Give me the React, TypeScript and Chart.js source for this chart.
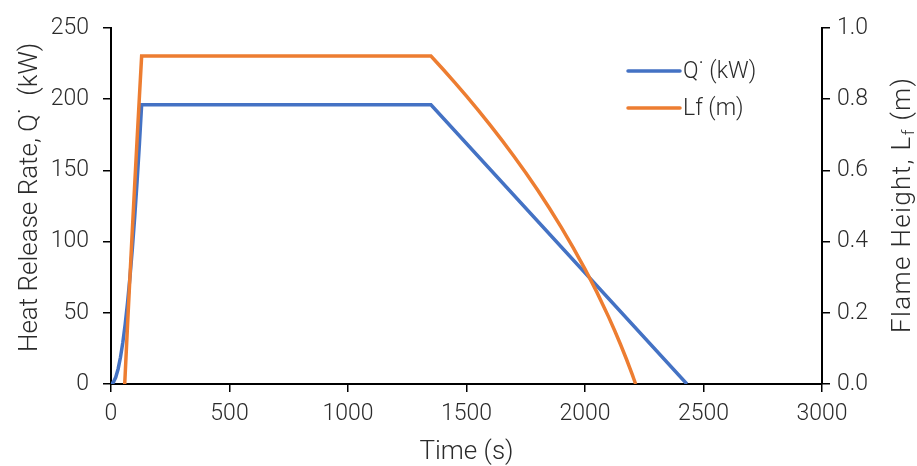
import React, { useEffect, useRef } from "react";
import { Chart, registerables } from "chart.js";

Chart.register(...registerables);

// Heat release rate Q̇ (kW) vs time (s)
const timeQ = [0, 10, 20, 30, 40, 50, 60, 70, 80, 90, 100, 110, 120, 129.3, 1350, 2430];
const heatRelease = [0, 1.17, 4.69, 10.55, 18.75, 29.3, 42.19, 57.43, 75.01, 94.93, 117.2, 141.81, 168.77, 196, 196, 0];

// Flame height Lf (m) vs time (s)
const timeLf = [57.9, 65, 70, 80, 90, 100, 110, 120, 129.3, 1350, 1400, 1450, 1500, 1550, 1600, 1650, 1700, 1750, 1800, 1850, 1900, 1950, 2000, 2050, 2100, 2125, 2150, 2175, 2190, 2200, 2205, 2213.7];
const flameHeight = [0, 0.0994, 0.1677, 0.3016, 0.4322, 0.5599, 0.6851, 0.808, 0.9207, 0.9207, 0.8843, 0.8468, 0.8081, 0.7681, 0.7267, 0.6839, 0.6393, 0.5929, 0.5444, 0.4935, 0.4399, 0.3831, 0.3227, 0.2579, 0.1878, 0.1503, 0.1109, 0.0695, 0.0434, 0.0254, 0.0162, 0];

const seriesLabels = ["Q\u02D9 (kW)", "Lf (m)"];
const xTitle = "Time (s)";
const leftTitle = "Heat Release Rate, Q\u02D9  (kW)";
const rightTitleParts = ["Flame Height, L", "f", " (m)"];

const FONT = "Roboto, 'Noto Sans', sans-serif";
const WEIGHT = "300";
const TEXT = "#2b2b2b";
const BLUE = "#4472C4";
const ORANGE = "#ED7D31";

type Part = { text: string; font: string; dy: number };

// draws rotated (-90deg) text pieces, spread to span a given length, centred at (cx, cy)
function drawVertical(ctx: CanvasRenderingContext2D, parts: Part[], cx: number, cy: number, span: number) {
  ctx.save();
  (ctx as any).letterSpacing = "0px";
  let natural = 0;
  let count = 0;
  const widths: number[] = [];
  for (const p of parts) {
    ctx.font = p.font;
    const w = ctx.measureText(p.text).width;
    widths.push(w);
    natural += w;
    count += Array.from(p.text).length;
  }
  const ls = Math.max(0, (span - natural) / Math.max(1, count - 1));
  ctx.translate(cx, cy);
  ctx.rotate(-Math.PI / 2);
  ctx.textAlign = "left";
  ctx.textBaseline = "alphabetic";
  let x = -span / 2;
  parts.forEach((p, i) => {
    ctx.font = p.font;
    const chars = Array.from(p.text);
    for (const ch of chars) {
      ctx.fillText(ch, x, p.dy);
      x += ctx.measureText(ch).width + ls;
    }
  });
  ctx.restore();
}

const overlayPlugin = {
  id: "overlay",
  afterDraw(chart: any) {
    const ctx = chart.ctx as CanvasRenderingContext2D;
    const area = chart.chartArea;
    ctx.save();
    ctx.fillStyle = TEXT;
    const big = `${WEIGHT} 26px ${FONT}`;
    const small = `${WEIGHT} 17px ${FONT}`;
    // left title
    drawVertical(ctx, [{ text: leftTitle, font: big, dy: 0 }], 37, 200, 304);
    // right title
    drawVertical(
      ctx,
      [
        { text: rightTitleParts[0], font: big, dy: 0 },
        { text: rightTitleParts[1], font: small, dy: 4 },
        { text: rightTitleParts[2], font: big, dy: 0 },
      ],
      910,
      205.5,
      255
    );
    // x title
    ctx.font = big;
    ctx.textAlign = "center";
    ctx.textBaseline = "alphabetic";
    ctx.fillText(xTitle, (area.left + area.right) / 2, 459);
    // legend
    const colors = [BLUE, ORANGE];
    const ys = [71, 108];
    ctx.font = `${WEIGHT} 23px ${FONT}`;
    ctx.textAlign = "left";
    ctx.textBaseline = "middle";
    for (let i = 0; i < 2; i++) {
      ctx.strokeStyle = colors[i];
      ctx.lineWidth = 3.5;
      ctx.lineCap = "round";
      ctx.beginPath();
      ctx.moveTo(628, ys[i]);
      ctx.lineTo(680, ys[i]);
      ctx.stroke();
      ctx.fillStyle = TEXT;
      ctx.fillText(seriesLabels[i], 683, ys[i] + 1);
    }
    ctx.restore();
  },
};

export default function App() {
  const ref = useRef<HTMLCanvasElement>(null);
  useEffect(() => {
    document.body.style.margin = "0";
    const canvas = ref.current!;
    const axisGrid = {
      display: true,
      drawOnChartArea: false,
      drawTicks: true,
      tickLength: 8,
      color: "#000",
      lineWidth: 1.5,
    };
    const tickFont = { family: FONT, size: 23, weight: WEIGHT as any };
    const chart = new Chart(canvas, {
      type: "scatter",
      data: {
        datasets: [
          {
            label: seriesLabels[0],
            data: timeQ.map((t, i) => ({ x: t, y: heatRelease[i] })),
            borderColor: BLUE,
            backgroundColor: BLUE,
            borderWidth: 3.5,
            showLine: true,
            pointRadius: 0,
            yAxisID: "y",
            order: 1,
          },
          {
            label: seriesLabels[1],
            data: timeLf.map((t, i) => ({ x: t, y: flameHeight[i] })),
            borderColor: ORANGE,
            backgroundColor: ORANGE,
            borderWidth: 3.5,
            showLine: true,
            pointRadius: 0,
            yAxisID: "y1",
            order: 0,
          },
        ],
      },
      options: {
        animation: false,
        responsive: false,
        layout: { padding: { top: 24, left: 0, right: 0, bottom: 0 } },
        plugins: { legend: { display: false }, tooltip: { enabled: false } },
        scales: {
          x: {
            type: "linear",
            min: 0,
            max: 3000,
            ticks: {
              stepSize: 500,
              color: TEXT,
              font: tickFont,
              padding: 8,
              maxRotation: 0,
              callback: (v: any) => String(v),
            },
            grid: axisGrid,
            border: { display: true, color: "#000", width: 2 },
            afterFit(scale: any) {
              scale.height = 82;
            },
          },
          y: {
            type: "linear",
            position: "left",
            min: 0,
            max: 250,
            ticks: { stepSize: 50, color: TEXT, font: tickFont, padding: 14, callback: (v: any) => String(v) },
            grid: axisGrid,
            border: { display: true, color: "#000", width: 2 },
            afterFit(scale: any) {
              scale.width = 111;
            },
          },
          y1: {
            type: "linear",
            position: "right",
            min: 0,
            max: 1,
            ticks: {
              stepSize: 0.2,
              color: TEXT,
              font: tickFont,
              padding: 7,
              callback: (v: any) => Number(v).toFixed(1),
            },
            grid: axisGrid,
            border: { display: true, color: "#000", width: 2 },
            afterFit(scale: any) {
              scale.width = 95;
            },
          },
        },
      },
      plugins: [overlayPlugin],
    });
    return () => chart.destroy();
  }, []);
  return (
    <div style={{ width: 917, height: 466, background: "#fff" }}>
      <canvas ref={ref} width={917} height={466} style={{ display: "block" }} />
    </div>
  );
}
